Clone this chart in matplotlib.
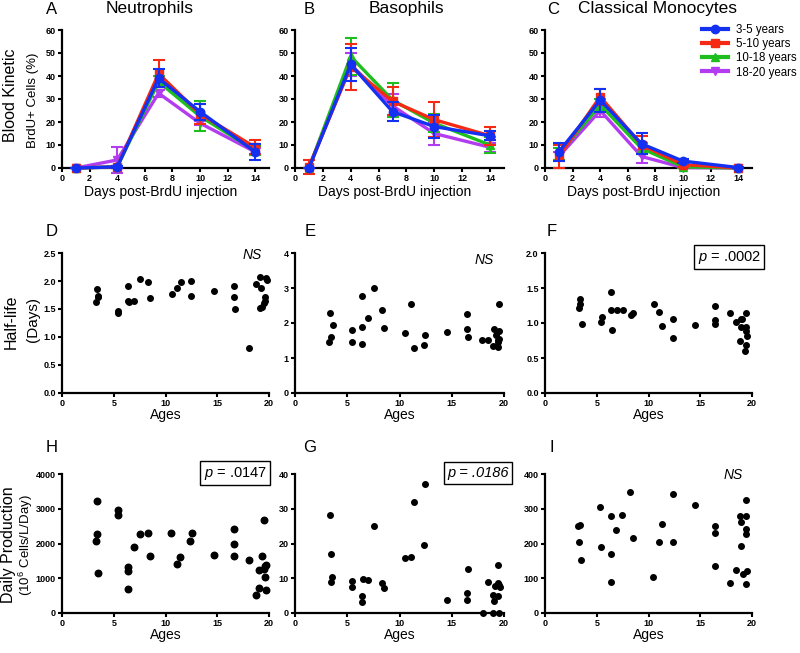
import matplotlib
matplotlib.use("Agg")
import matplotlib.pyplot as plt
from matplotlib.lines import Line2D

plt.rcParams['font.family'] = ['Liberation Sans', 'DejaVu Sans']
plt.rcParams['mathtext.fontset'] = 'custom'
plt.rcParams['mathtext.rm'] = 'Liberation Sans'
plt.rcParams['mathtext.it'] = 'Liberation Sans:italic'

# ---- top row: blood kinetics (mean, error) ----
days = [1, 4, 7, 10, 14]
groups = ['3-5 years', '5-10 years', '10-18 years', '18-20 years']
colors = ['#1430f0', '#f52a14', '#1ebe1e', '#b43cf0']
markers = ['o', 's', '^', 'v']

neu_mean = [[0, 0.5, 39, 24.5, 7], [0, 0.5, 41, 23.5, 9],
            [0, 0.5, 37.5, 22.5, 7.5], [0, 3.5, 32.5, 19.5, 7]]
neu_err = [[0, 0.5, 4, 3.5, 3.5], [0, 0.5, 6, 4.5, 3],
           [0, 0.5, 2.5, 6.5, 2], [0, 5.5, 1.5, 1, 1.5]]

baso_mean = [[0, 45, 24.5, 18, 14], [0.5, 44, 29, 21, 14],
             [0, 48.5, 29.5, 19.5, 10], [0, 45, 27, 15, 9]]
baso_err = [[0, 7, 4, 5, 2], [3, 10, 6, 7.5, 4],
            [0, 8, 7.5, 4, 3.5], [0, 5, 5, 5, 2]]

mono_mean = [[7, 29.5, 10.5, 3, 0.2], [5, 31, 10, 1.5, 0],
             [6, 27.5, 8.5, 0.5, 0], [5, 25, 5, 0.2, 0]]
mono_err = [[4, 5, 4.5, 1, 0.3], [5, 3.5, 4, 1, 0.2],
            [2.5, 2.5, 2.5, 0.5, 0.2], [2, 3, 2.8, 0.3, 0.2]]

# ---- middle row: half-life vs age ----
d_age = [3.3, 3.4, 3.45, 3.5, 5.4, 5.4, 6.4, 6.4, 6.45, 6.95, 7.55, 8.35, 8.55,
         10.6, 11.15, 11.5, 12.5, 12.5, 14.65, 16.6, 16.6, 16.7, 18.1, 18.7,
         19.1, 19.2, 19.1, 19.3, 19.55, 19.65, 19.7, 19.8, 19.65]
d_val = [1.62, 1.85, 1.72, 1.74, 1.46, 1.42, 1.91, 1.65, 1.63, 1.65, 2.03, 1.98, 1.70,
         1.77, 1.87, 1.99, 2.0, 1.73, 1.83, 1.91, 1.71, 1.50, 0.81, 1.94,
         2.08, 1.87, 1.51, 1.54, 1.60, 1.71, 2.05, 2.02, 1.65]

e_age = [3.37, 3.59, 3.4, 3.3, 5.46, 5.49, 6.41, 6.41, 6.44, 6.95, 7.52, 8.35, 8.54,
         10.5, 11.1, 11.4, 12.35, 12.44, 14.54, 16.44, 16.5, 16.54, 17.9, 18.5,
         19.0, 19.2, 18.9, 19.4, 19.46, 19.5, 19.52, 19.46, 19.52]
e_val = [2.29, 1.93, 1.61, 1.45, 1.81, 1.45, 2.78, 1.89, 1.41, 2.14, 3.0, 2.37, 1.86,
         1.71, 2.53, 1.29, 1.38, 1.66, 1.75, 2.27, 1.83, 1.60, 1.52, 1.52,
         1.82, 1.67, 1.33, 1.51, 1.32, 1.55, 1.78, 1.47, 2.55]

f_age = [3.3, 3.36, 3.42, 3.55, 5.42, 5.48, 6.37, 6.37, 6.43, 6.94, 7.51, 8.33, 8.52,
         10.52, 11.06, 11.35, 12.39, 12.33, 14.52, 16.45, 16.42, 16.42, 17.9, 18.45,
         18.9, 19.0, 18.95, 18.86, 19.4, 19.4, 19.46, 19.5, 19.46, 19.37]
f_val = [1.22, 1.27, 1.34, 0.99, 1.01, 1.09, 1.44, 1.19, 0.90, 1.18, 1.18, 1.11, 1.14,
         1.27, 1.16, 0.96, 1.06, 0.79, 0.97, 1.25, 1.05, 0.99, 1.15, 1.02,
         1.06, 1.06, 0.95, 0.74, 1.14, 0.94, 0.88, 0.81, 0.69, 0.60]

# ---- bottom row: daily production vs age ----
h_age = [3.34, 3.37, 3.24, 3.5, 5.4, 5.4, 6.42, 6.42, 6.42, 6.94, 7.52, 8.32, 8.54,
         10.57, 11.15, 11.44, 12.4, 12.53, 14.65, 16.58, 16.6, 16.6, 18.1, 18.7,
         19.08, 19.08, 19.3, 19.56, 19.56, 19.66, 19.72, 19.66, 19.72]
h_val = [3235, 2278, 2086, 1139, 2957, 2813, 1311, 1196, 689, 1895, 2268, 2316, 1646,
         2306, 1407, 1608, 2067, 2297, 1675, 2412, 1981, 1646, 1512, 507,
         727, 1235, 1646, 1254, 2680, 1340, 1368, 1034, 651]

g_age = [3.33, 3.43, 3.56, 3.4, 5.49, 5.46, 6.48, 6.44, 6.44, 6.98, 7.56, 8.32, 8.54,
         10.54, 11.14, 11.4, 12.48, 12.35, 14.57, 16.54, 16.48, 16.5, 17.97, 18.5,
         18.95, 18.95, 19.0, 19.14, 19.4, 19.43, 19.4, 19.49, 19.52, 19.6]
g_val = [28.1, 16.9, 10.5, 8.8, 9.3, 7.4, 9.7, 4.9, 3.3, 9.5, 25.1, 8.6, 7.3,
         15.9, 16.2, 31.9, 37.1, 19.7, 3.7, 12.6, 5.8, 3.6, 0, 8.9,
         0, 5.2, 3.5, 7.9, 13.7, 8.6, 5.0, 0, 8.1, 7.5]

i_age = [3.22, 3.38, 3.31, 3.47, 5.35, 5.38, 6.34, 6.37, 6.34, 6.88, 7.45, 8.25, 8.47,
         10.48, 11.02, 11.34, 12.36, 12.39, 14.52, 16.4, 16.4, 16.46, 17.9, 18.5,
         18.85, 18.95, 18.89, 19.1, 19.4, 19.4, 19.46, 19.46, 19.52, 19.4]
i_val = [249, 252, 203, 152, 305, 190, 279, 170, 90, 238, 282, 348, 216,
         104, 204, 255, 342, 204, 311, 251, 230, 136, 86, 125,
         279, 261, 194, 112, 325, 279, 243, 226, 122, 83]

W, H = 800, 653
tick_font = ['Liberation Sans Narrow', 'DejaVu Sans Condensed', 'Liberation Sans']


def px(x, y):
    return x / W, 1 - y / H


def make_ax(fig, left, top, right, bottom):
    ax = fig.add_axes([left / W, 1 - bottom / H, (right - left) / W, (bottom - top) / H])
    for s in ['top', 'right']:
        ax.spines[s].set_visible(False)
    for s in ['left', 'bottom']:
        ax.spines[s].set_linewidth(1.6)
    ax.tick_params(direction='out', length=3, width=1.5, pad=1.5)
    return ax


def set_ticks(ax, xt, yt, ylabels=None):
    kw = dict(fontweight='bold', fontsize=6.5, family=tick_font)
    ax.set_xticks(xt, [str(v) for v in xt], **kw)
    if ylabels is None:
        ylabels = [str(v) for v in yt]
    ax.set_yticks(yt, ylabels, **kw)


fig = plt.figure(figsize=(8, 6.53), dpi=100)

cols = [(62, 269), (295, 504), (545, 752)]

# top row
top_data = [(neu_mean, neu_err), (baso_mean, baso_err), (mono_mean, mono_err)]
for (l, r), (means, errs) in zip(cols, top_data):
    ax = make_ax(fig, l, 30, r, 168)
    for k in [3, 2, 1, 0]:
        ax.errorbar(days, means[k], yerr=errs[k], color=colors[k], marker=markers[k],
                    ms=6, lw=2.4, elinewidth=1.5, capsize=4, capthick=1.5,
                    clip_on=False, zorder=3 + (3 - k))
    ax.set_xlim(0, 15)
    ax.set_ylim(0, 60)
    set_ticks(ax, list(range(0, 15, 2)), list(range(0, 61, 10)))
    fig.text(*px((l + r) / 2 - 5, 192), 'Days post-BrdU injection', ha='center', va='center', fontsize=10)

handles = [Line2D([], [], color=c, marker=m, ms=6, lw=3) for c, m in zip(colors, markers)]
fig.legend(handles, groups, loc='upper left', bbox_to_anchor=px(697, 19), frameon=False,
           fontsize=8.3, handlelength=2.3, labelspacing=0.2, handletextpad=0.7,
           borderaxespad=0)

# middle row
mid = [(d_age, d_val, 2.5, [0, 0.5, 1.0, 1.5, 2.0, 2.5], '%.1f'),
       (e_age, e_val, 4, [0, 1, 2, 3, 4], '%d'),
       (f_age, f_val, 2.0, [0, 0.5, 1.0, 1.5, 2.0], '%.1f')]
for (l, r), (xa, ya, ymax, yt, fmt) in zip(cols, mid):
    ax = make_ax(fig, l, 253, r, 393)
    ax.scatter(xa, ya, s=16, color='black', clip_on=False, zorder=3)
    ax.set_xlim(0, 20)
    ax.set_ylim(0, ymax)
    set_ticks(ax, [0, 5, 10, 15, 20], yt, [fmt % v for v in yt])
    fig.text(*px((l + r) / 2, 415), 'Ages', ha='center', va='center', fontsize=10)

# bottom row
bot = [(h_age, h_val, 4000, [0, 1000, 2000, 3000, 4000], 22),
       (g_age, g_val, 40, [0, 10, 20, 30, 40], 16),
       (i_age, i_val, 400, [0, 100, 200, 300, 400], 16)]
for (l, r), (xa, ya, ymax, yt, sz) in zip(cols, bot):
    ax = make_ax(fig, l, 474, r, 613)
    ax.scatter(xa, ya, s=sz, color='black', clip_on=False, zorder=3)
    ax.set_xlim(0, 20)
    ax.set_ylim(0, ymax)
    set_ticks(ax, [0, 5, 10, 15, 20], yt)
    fig.text(*px((l + r) / 2, 635), 'Ages', ha='center', va='center', fontsize=10)

# panel letters and titles
fig.text(*px(52, 9), 'A', ha='center', va='center', fontsize=12)
fig.text(*px(150, 9), 'Neutrophils', ha='center', va='center', fontsize=12.5)
fig.text(*px(309, 9), 'B', ha='center', va='center', fontsize=12)
fig.text(*px(406, 9), 'Basophils', ha='center', va='center', fontsize=12.5)
fig.text(*px(553, 9), 'C', ha='center', va='center', fontsize=12)
fig.text(*px(658, 9), 'Classical Monocytes', ha='center', va='center', fontsize=12.5)
for letter, x, y in [('D', 52, 231), ('E', 310, 231), ('F', 552, 231),
                     ('H', 52, 448), ('G', 310, 448), ('I', 552, 448)]:
    fig.text(*px(x, y), letter, ha='center', va='center', fontsize=12)

# row labels
fig.text(*px(11, 95), 'Blood Kinetic', rotation=90, ha='center', va='center', fontsize=11.5)
fig.text(*px(33, 100), 'BrdU+ Cells (%)', rotation=90, ha='center', va='center', fontsize=9.5)
fig.text(*px(11, 322), 'Half-life', rotation=90, ha='center', va='center', fontsize=11.5)
fig.text(*px(33, 320), '(Days)', rotation=90, ha='center', va='center', fontsize=11)
fig.text(*px(9, 545), 'Daily Production', rotation=90, ha='center', va='center', fontsize=11.5)
fig.text(*px(26, 545), '(10$^6$ Cells/L/Day)', rotation=90, ha='center', va='center', fontsize=9.5)

# significance notes
for x, y in [(252, 255), (484, 260), (733, 475)]:
    fig.text(*px(x, y), 'NS', style='italic', ha='center', va='center', fontsize=10)
box = dict(boxstyle='square,pad=0.25', fc='white', ec='black', lw=1)
fig.text(*px(729, 257), '$p$ = .0002', ha='center', va='center', fontsize=10.5, bbox=box)
fig.text(*px(235, 473), '$p$ = .0147', ha='center', va='center', fontsize=10.5, bbox=box)
fig.text(*px(478, 473), 'p = .0186', style='italic', ha='center', va='center', fontsize=10.5, bbox=box)

fig.savefig('out.png', dpi=100)
